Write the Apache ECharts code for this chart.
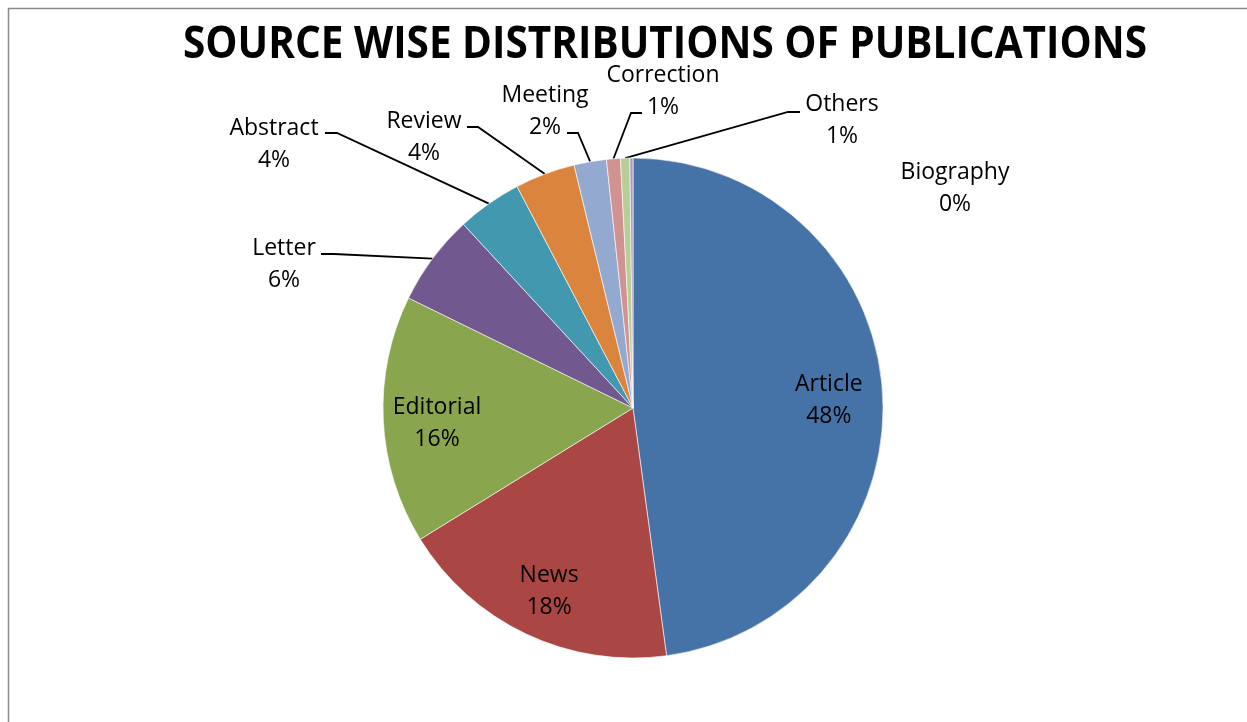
<!DOCTYPE html>
<html>
<head>
<meta charset="utf-8">
<script src="https://cdn.jsdelivr.net/npm/echarts@6/dist/echarts.min.js"></script>
<style>
  html, body { margin: 0; padding: 0; background: #fff; }
  #main { width: 1247px; height: 722px; }
</style>
</head>
<body>
<div id="main"></div>
<script>
// 数据
const names = ['Article', 'News', 'Editorial', 'Letter', 'Abstract', 'Review', 'Meeting', 'Correction', 'Others', 'Biography'];
const shares = [48.0, 18.4, 16.1, 5.9, 4.2, 3.9, 2.1, 0.9, 0.6, 0.2];
const colors = ['#4572A7', '#AA4643', '#89A54E', '#71588F', '#4198AF', '#DB843D', '#93A9CF', '#D19392', '#B9CD96', '#A99BBD'];
const insideNames = ['Article', 'News', 'Editorial'];

// 饼图位置
const CX = 633, CY = 408, R = 250;
// 外部标签位置（文字中心 + 引导线拐点/终点）
const outsideLabels = {
  Letter: { at: [284, 264], line: [[334, 254], [321, 254]] },
  Abstract: { at: [274, 144], line: [[337, 133], [325, 133]] },
  Review: { at: [424, 137], line: [[478, 127], [467, 127]] },
  Meeting: { at: [545, 111], line: [[578, 133], [567, 133]] },
  Correction: { at: [663, 91], line: [[631, 113], [642, 113]] },
  Others: { at: [842, 120], line: [[788, 112], [800, 112]] },
  Biography: { at: [955, 188], line: null }
};
const insideDy = 6; // 内部标签向下微调

const myChart = echarts.init(document.getElementById('main'));

// 每个扇区的中间角度（从12点方向顺时针）
const total = shares.reduce((a, b) => a + b, 0);
const midAngles = [];
let acc = 0;
shares.forEach(v => {
  midAngles.push((acc + v / 2) / total * Math.PI * 2);
  acc += v;
});
function pointAt(i, r) {
  return [CX + r * Math.sin(midAngles[i]), CY - r * Math.cos(midAngles[i])];
}

// 标题宽度压缩，接近原图的窄字体
const titleText = 'SOURCE WISE DISTRIBUTIONS OF PUBLICATIONS';
const titleFont = 'bold 45px "Open Sans"';
const ctx = document.createElement('canvas').getContext('2d');
ctx.font = titleFont;
const titleScale = Math.min(1, 964 / ctx.measureText(titleText).width);

const option = {
  backgroundColor: '#fff',
  animation: false,
  graphic: [
    {
      type: 'rect',
      shape: { x: 8.5, y: 8.5, width: 1400, height: 1000 },
      style: { fill: null, stroke: '#8a8a8a', lineWidth: 1.5 },
      silent: true
    },
    {
      type: 'text',
      x: 665, y: 45,
      scaleX: titleScale,
      style: {
        text: titleText,
        font: titleFont,
        fill: '#000',
        textAlign: 'center',
        textVerticalAlign: 'middle'
      }
    }
  ],
  series: [{
    type: 'pie',
    center: [CX, CY],
    radius: R,
    startAngle: 90,
    clockwise: true,
    avoidLabelOverlap: false,
    minAngle: 0,
    itemStyle: { borderColor: '#fff', borderWidth: 0.6 },
    label: {
      show: true,
      position: 'outside',
      fontFamily: 'Open Sans',
      fontSize: 23,
      lineHeight: 32,
      color: '#000',
      align: 'center',
      formatter: p => p.name + '\n' + Math.round(p.percent) + '%'
    },
    labelLine: {
      show: true,
      lineStyle: { color: '#000', width: 1.8 }
    },
    labelLayout: function (params) {
      const i = params.dataIndex;
      const name = names[i];
      if (insideNames.indexOf(name) >= 0) {
        const p = pointAt(i, R * 0.785);
        return { x: p[0], y: p[1] + insideDy, align: 'center', verticalAlign: 'middle' };
      }
      const cfg = outsideLabels[name];
      const res = { x: cfg.at[0], y: cfg.at[1], align: 'center', verticalAlign: 'middle' };
      if (cfg.line) {
        res.labelLinePoints = [pointAt(i, R), cfg.line[0], cfg.line[1]];
      }
      return res;
    },
    data: names.map((n, i) => {
      const item = { name: n, value: shares[i], itemStyle: { color: colors[i] } };
      if (insideNames.indexOf(n) >= 0) {
        item.label = { position: 'inside' };
        item.labelLine = { show: false };
      }
      if (!outsideLabels[n] || !outsideLabels[n].line) {
        item.labelLine = { show: false };
      }
      return item;
    })
  }]
};
myChart.setOption(option);
</script>
</body>
</html>
